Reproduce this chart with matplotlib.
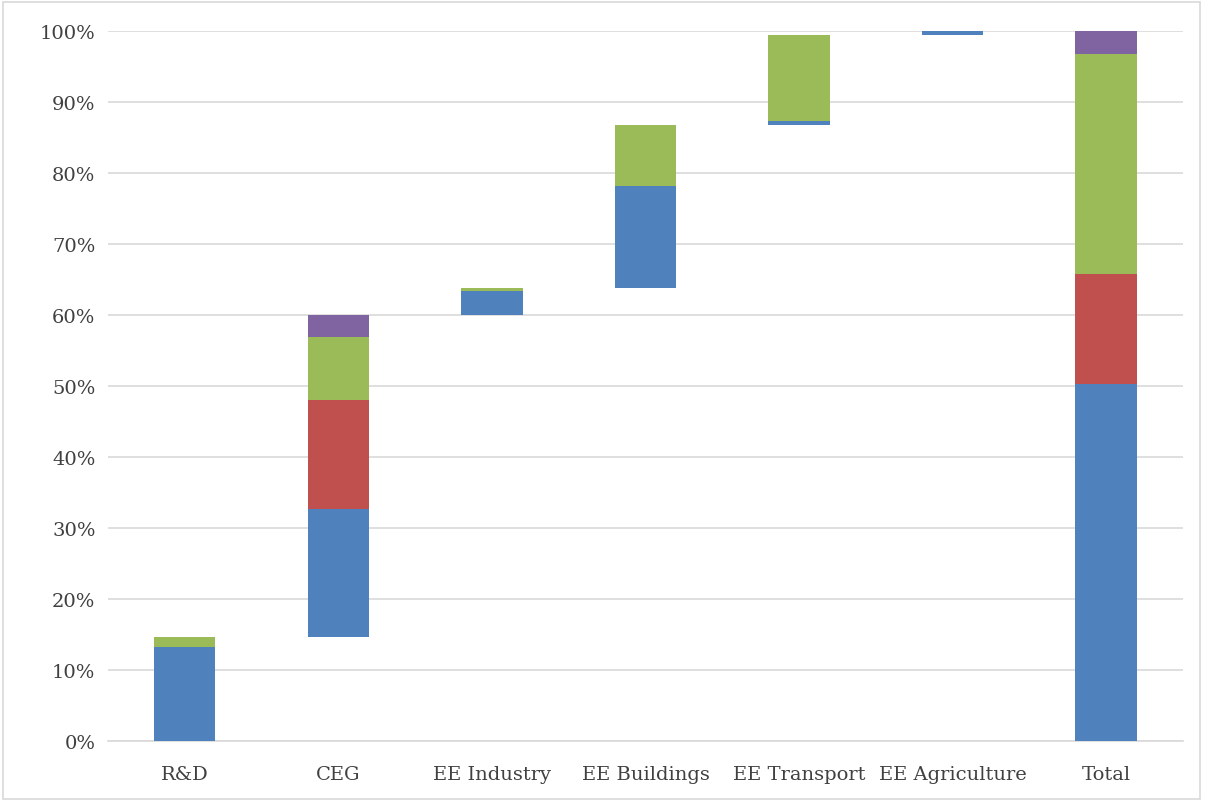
import matplotlib.pyplot as plt
import numpy as np
from matplotlib.patches import Rectangle
from matplotlib.ticker import PercentFormatter

categories = ["R&D", "CEG", "EE Industry", "EE Buildings", "EE Transport",
              "EE Agriculture", "Total"]
# segment sizes in percent, per category (waterfall steps, then the total)
blue = [13.2, 18.0, 3.4, 14.4, 0.5, 0.6, 50.3]
red = [0.0, 15.3, 0.0, 0.0, 0.0, 0.0, 15.5]
green = [1.5, 8.9, 0.4, 8.6, 12.1, 0.0, 31.0]
purple = [0.0, 3.1, 0.0, 0.0, 0.0, 0.0, 3.2]

COLORS = ["#4F81BD", "#C0504D", "#9BBB59", "#8064A2"]

plt.rcParams.update({
    "font.family": ["DejaVu Serif"],
    "font.size": 14,
})

fig = plt.figure(figsize=(12.08, 8.03), dpi=100)
ax = fig.add_axes([108 / 1208, 1 - 742 / 803, (1183 - 108) / 1208, (742 - 32) / 803])

series = [np.array(blue), np.array(red), np.array(green), np.array(purple)]
step_totals = sum(series)
# invisible base: running total of earlier steps, zero for the Total bar
base = np.concatenate([[0.0], np.cumsum(step_totals[:-1])[:-1], [0.0]])

x = np.arange(len(categories))
bottom = base.copy()
for values, color in zip(series, COLORS):
    ax.bar(x, values, bottom=bottom, width=0.4, color=color,
           edgecolor="none", zorder=3)
    bottom = bottom + values

ax.set_xlim(-0.5, len(categories) - 0.5)
ax.set_ylim(0, 100)
ax.set_yticks(np.arange(0, 101, 10))
ax.yaxis.set_major_formatter(PercentFormatter(decimals=0))
ax.set_xticks(x, categories)
ax.grid(axis="y", color="#D9D9D9", linewidth=1.2, zorder=0)
for side in ("top", "right", "left"):
    ax.spines[side].set_visible(False)
ax.spines["bottom"].set_color("#D9D9D9")
ax.spines["bottom"].set_linewidth(1.2)
ax.tick_params(axis="both", length=0, colors="#404040", labelsize=14)
ax.tick_params(axis="x", pad=17)
ax.tick_params(axis="y", pad=9)

fig.patches.append(Rectangle((3 / 1208, 3 / 803), 1197 / 1208, 797 / 803,
                             transform=fig.transFigure, fill=False,
                             edgecolor="#D9D9D9", linewidth=1.2))

fig.savefig("out.png", dpi=100)
